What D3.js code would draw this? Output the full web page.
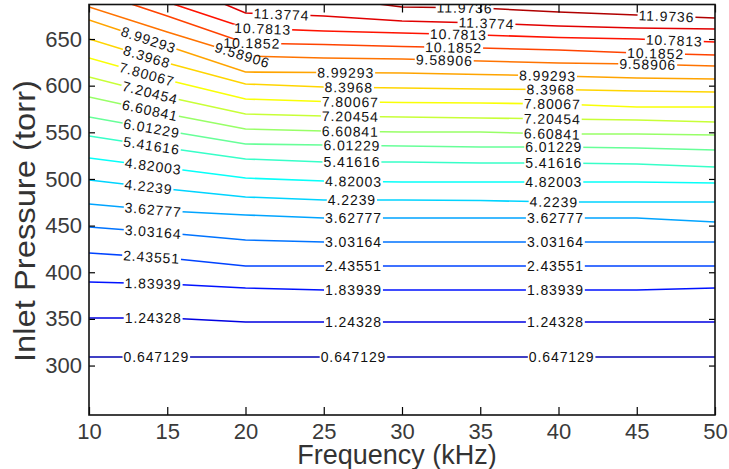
<!DOCTYPE html>
<html>
<head>
<meta charset="utf-8">
<script src="https://cdn.jsdelivr.net/npm/d3@7"></script>
<style>
body { margin: 0; background: #fff; }
svg { display: block; font-family: Arial, "Liberation Sans", sans-serif; }
</style>
</head>
<body>
<div id="chart"></div>
<script>
// Contour levels (MATLAB clabel values)
var levels = [0.647129, 1.24328, 1.83939, 2.43551, 3.03164, 3.62777, 4.2239, 4.82003, 5.41616, 6.01229,
              6.60841, 7.20454, 7.80067, 8.3968, 8.99293, 9.58906, 10.1852, 10.7813, 11.3774, 11.9736];

// Frequency points (kHz) where each contour pressure is read
var freq = [10, 15, 20, 25, 30, 35, 40, 45, 50];

// Inlet pressure (torr) of each contour at the freq points
var p01 = [309.2, 309.2, 309.2, 309.2, 309.2, 309.2, 309.2, 309.2, 309.2];
var p02 = [351.0, 351.0, 346.7, 346.7, 346.7, 346.7, 346.7, 346.7, 346.7];
var p03 = [389.5, 387.4, 383.1, 381.0, 381.0, 381.0, 381.0, 381.0, 383.1];
var p04 = [420.6, 415.3, 406.7, 406.7, 406.7, 406.7, 406.7, 406.7, 406.7];
var p05 = [448.5, 442.1, 434.6, 432.4, 432.4, 432.4, 432.4, 432.4, 432.4];
var p06 = [473.2, 465.6, 461.4, 458.2, 458.2, 458.2, 458.2, 458.2, 453.9];
var p07 = [498.9, 489.3, 480.7, 477.4, 477.4, 476.9, 475.3, 475.3, 475.3];
var p08 = [522.5, 511.8, 501.0, 497.8, 496.7, 496.7, 496.7, 496.7, 495.6];
var p09 = [546.0, 533.2, 521.4, 518.2, 518.2, 517.1, 517.1, 516.0, 512.8];
var p10 = [566.4, 551.4, 537.5, 536.4, 535.3, 534.3, 534.3, 533.2, 531.0];
var p11 = [587.8, 569.6, 553.5, 551.4, 550.3, 550.3, 548.2, 548.2, 547.1];
var p12 = [609.3, 587.8, 569.6, 567.5, 566.4, 565.4, 564.3, 563.2, 561.1];
var p13 = [629.7, 606.1, 585.7, 583.0, 582.0, 581.4, 580.4, 577.2, 577.2];
var p14 = [650.0, 624.3, 601.8, 598.6, 597.5, 596.4, 595.9, 594.3, 593.2];
var p15 = [670.4, 642.5, 614.6, 614.1, 613.6, 612.0, 610.4, 608.2, 607.1];
var p16 = [684.3, 657.5, 631.8, 629.7, 628.6, 626.4, 624.3, 623.2, 621.1];
var p17 = [702.5, 674.7, 645.7, 644.1, 642.0, 640.4, 638.2, 635.0, 632.9];
var p18 = [718.6, 689.6, 661.8, 658.6, 656.5, 654.3, 651.6, 650.0, 646.8];
var p19 = [748.0, 713.2, 677.9, 674.7, 669.3, 667.2, 664.0, 661.8, 660.7];
var p20 = [760.0, 735.0, 705.0, 695.0, 684.3, 683.2, 679.0, 675.7, 672.5];

var contourP = [p01, p02, p03, p04, p05, p06, p07, p08, p09, p10,
                p11, p12, p13, p14, p15, p16, p17, p18, p19, p20];

// Where the labels sit: contour index + frequency
var labelLevel = [0, 1, 2, 3, 4, 5, 6, 7, 8, 9, 10, 11, 12, 13, 14,
                  0, 1, 2, 3, 4, 5, 6, 7, 8, 9, 10, 11, 12, 13, 14,
                  0, 1, 2, 3, 4, 5, 6, 7, 8, 9, 10, 11, 12, 13, 14,
                  15, 15, 15, 16, 16, 16, 17, 17, 17, 18, 18, 19, 19];
var labelFreq = [14.3, 14.1, 14.1, 14.0, 14.1, 14.1, 13.8, 14.1, 14.0, 14.0, 13.9, 13.9, 13.7, 13.7, 13.8,
                 26.9, 26.9, 26.9, 26.9, 26.9, 26.9, 26.8, 26.9, 26.8, 26.8, 26.7, 26.7, 26.7, 26.6, 26.4,
                 40.2, 39.8, 39.8, 39.8, 39.8, 39.8, 39.7, 39.7, 39.7, 39.7, 39.6, 39.6, 39.6, 39.5, 39.3,
                 19.8, 32.7, 45.7, 20.4, 33.3, 46.2, 21.1, 33.6, 47.4, 22.3, 35.4, 34.0, 46.9];

var xTicks = [10, 15, 20, 25, 30, 35, 40, 45, 50];
var yTicks = [300, 350, 400, 450, 500, 550, 600, 650];

// Plotting vars
var margin = {top: 4.5, right: 14, bottom: 54, left: 89},
    width = 729 - margin.left - margin.right,
    height = 469 - margin.top - margin.bottom;

var svg = d3.select("#chart")
  .append("svg")
    .attr("width", 729)
    .attr("height", 469);

var g = svg.append("g")
    .attr("transform", "translate(" + margin.left + "," + margin.top + ")");

var x = d3.scaleLinear().domain([10, 50]).range([0, width]);
var y = d3.scaleLinear().domain([247, 687]).range([height, 0]);

// jet colormap
function jet(t) {
  function c(v) { return Math.round(255 * Math.max(0, Math.min(1, v))); }
  return "rgb(" + c(1.5 - Math.abs(4 * t - 3)) + "," + c(1.5 - Math.abs(4 * t - 2)) + "," + c(1.5 - Math.abs(4 * t - 1)) + ")";
}
function levelColor(i) { return jet((i + 1) / (levels.length + 1)); }

g.append("clipPath").attr("id", "plotclip")
  .append("rect").attr("width", width).attr("height", height);

var plot = g.append("g").attr("clip-path", "url(#plotclip)");

var line = d3.line()
    .x(function(d, i) { return x(freq[i]); })
    .y(function(d) { return y(d); });

plot.selectAll("path.contour")
    .data(contourP)
  .enter().append("path")
    .attr("class", "contour")
    .attr("d", line)
    .attr("fill", "none")
    .attr("stroke", function(d, i) { return levelColor(i); })
    .attr("stroke-width", 1.6);

// Contour labels
var fmt = d3.format(".6~g");
labelLevel.forEach(function(li, k) {
  var f = labelFreq[k];
  var p = contourP[li];
  var interp = d3.scaleLinear().domain(freq).range(p);
  var j = Math.min(freq.length - 2, Math.max(0, d3.bisectRight(freq, f) - 1));
  var ang = Math.atan2(y(p[j + 1]) - y(p[j]), x(freq[j + 1]) - x(freq[j])) * 180 / Math.PI;
  var lg = plot.append("g")
      .attr("transform", "translate(" + x(f) + "," + y(interp(f)) + ") rotate(" + ang + ")");
  var gap = lg.append("rect").attr("fill", "#fff");
  var t = lg.append("text")
      .attr("text-anchor", "middle")
      .attr("dy", "0.36em")
      .attr("font-size", 14)
      .attr("letter-spacing", 0.9)
      .attr("fill", "#111")
      .text(fmt(levels[li]));
  var w = t.node().getComputedTextLength() + 2;
  gap.attr("x", -w / 2).attr("y", -3).attr("width", w).attr("height", 6);
});

// Axes: ticks point inward, box on
var xAxis = d3.axisBottom(x).tickValues(xTicks).tickSize(-8).tickPadding(8);
var yAxis = d3.axisLeft(y).tickValues(yTicks).tickSize(-6).tickPadding(7);

var gx = g.append("g").attr("transform", "translate(0," + height + ")").call(xAxis);
var gy = g.append("g").call(yAxis);
g.append("g").call(d3.axisTop(x).tickValues(xTicks).tickSize(-8).tickFormat(""));
g.append("g").attr("transform", "translate(" + width + ",0)")
  .call(d3.axisRight(y).tickValues(yTicks).tickSize(-6).tickFormat(""));

g.selectAll(".domain").remove();
g.selectAll(".tick line").attr("stroke", "#000").attr("stroke-width", 1.2);
[gx, gy].forEach(function(a) {
  a.selectAll("text").attr("font-size", 22).attr("fill", "#3a3a3a")
    .style("font-family", "Arial, 'Liberation Sans', sans-serif");
});

g.append("rect")
    .attr("width", width).attr("height", height)
    .attr("fill", "none").attr("stroke", "#111").attr("stroke-width", 1.6);

// Axis titles
svg.append("text")
    .attr("x", 397).attr("y", 464)
    .attr("text-anchor", "middle")
    .attr("font-size", 27)
    .attr("fill", "#333")
    .text("Frequency (kHz)");

svg.append("text")
    .attr("transform", "translate(35,221) rotate(-90)")
    .attr("text-anchor", "middle")
    .attr("font-size", 29)
    .attr("fill", "#333")
    .attr("textLength", 282)
    .attr("lengthAdjust", "spacingAndGlyphs")
    .text("Inlet Pressure  (torr)");
</script>
</body>
</html>
